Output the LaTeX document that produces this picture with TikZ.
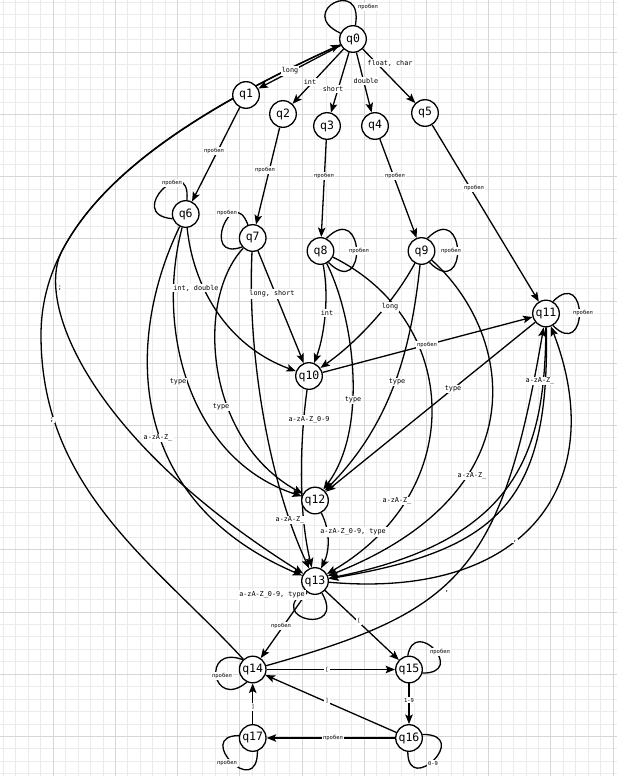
\documentclass[tikz,border=0pt]{standalone}
\usepackage{fontspec}
\newfontfamily\monofont{DejaVu Sans Mono}
\usetikzlibrary{arrows.meta}
\pgfdeclarelayer{gridlayer}
\pgfdeclarelayer{edgelayer}
\pgfdeclarelayer{labellayer}
\pgfsetlayers{gridlayer,edgelayer,main,labellayer}
\begin{document}
\begin{tikzpicture}[x=1pt,y=-1pt,
  state/.style={circle,draw,line width=1.3pt,fill=white,minimum size=26.6pt,inner sep=0pt,
    font=\monofont\fontsize{11.5}{11.5}\selectfont},
  arr/.style={line width=1.3pt,-{Stealth[length=9.5pt,width=7.5pt,inset=2pt]}},
  ln/.style={line width=1.3pt},
  lbl/.style={fill=white,inner sep=1.2pt,font=\monofont\fontsize{6.8}{7}\selectfont},
  sp/.style={fill=white,inner sep=1.2pt,font=\monofont\fontsize{5.5}{6}\selectfont},
  gminor/.style={line width=0.8pt,black!8},
  gmajor/.style={line width=0.9pt,black!16},
]
\useasboundingbox (0,0) rectangle (617,776);

% background grid
\begin{pgfonlayer}{gridlayer}
  \fill[white] (0,0) rectangle (617,776);
  \foreach \i in {0,...,51} {
    \draw[gminor] ({-9+12.44*\i},0) -- ({-9+12.44*\i},776);
  }
  \foreach \i in {0,...,64} {
    \draw[gminor] (0,{-10+12.44*\i}) -- (617,{-10+12.44*\i});
  }
  \foreach \i in {0,...,10} {
    \draw[gmajor] ({-9+62.2*\i},0) -- ({-9+62.2*\i},776);
  }
  \foreach \i in {0,...,13} {
    \draw[gmajor] (0,{-10+62.2*\i}) -- (617,{-10+62.2*\i});
  }
\end{pgfonlayer}

% states
\node[state] (q0)  at (353,39)  {q0};
\node[state] (q1)  at (246,95)  {q1};
\node[state] (q2)  at (283,114) {q2};
\node[state] (q3)  at (327,126) {q3};
\node[state] (q4)  at (375,126) {q4};
\node[state] (q5)  at (425,113) {q5};
\node[state] (q6)  at (185.7,214) {q6};
\node[state] (q7)  at (252.7,238) {q7};
\node[state] (q8)  at (320.5,251) {q8};
\node[state] (q9)  at (421.5,251) {q9};
\node[state] (q10) at (309,376) {q10};
\node[state] (q11) at (546,313.5) {q11};
\node[state] (q12) at (315,500.5) {q12};
\node[state] (q13) at (315,581) {q13};
\node[state] (q14) at (252.7,669.5) {q14};
\node[state] (q15) at (409,669.5) {q15};
\node[state] (q16) at (409,738) {q16};
\node[state] (q17) at (252.7,738) {q17};

\begin{pgfonlayer}{edgelayer}
  % self loops
  \draw[ln] (q0.155) .. controls +(155:50pt) and +(80:50pt) .. (q0.80);
  \draw[ln] (q6.200) .. controls +(175:50pt) and +(85:50pt) .. (q6.85);
  \draw[ln] (q7.220) .. controls +(200:45pt) and +(110:45pt) .. (q7.110);
  \draw[ln] (q8.65) .. controls +(45:55pt) and +(315:55pt) .. (q8.305);
  \draw[ln] (q9.65) .. controls +(45:55pt) and +(315:55pt) .. (q9.305);
  \draw[ln] (q11.60) .. controls +(45:50pt) and +(315:50pt) .. (q11.300);
  \draw[ln] (q13.225) .. controls +(215:50pt) and +(300:50pt) .. (q13.300);
  \draw[ln] (q14.135) .. controls +(160:45pt) and +(220:45pt) .. (q14.245);
  \draw[ln] (q15.95) .. controls +(80:40pt) and +(0:45pt) .. (q15.345);
  \draw[ln] (q16.15) .. controls +(0:50pt) and +(270:45pt) .. (q16.265);
  \draw[ln] (q17.170) .. controls +(180:45pt) and +(270:50pt) .. (q17.290);

  % type keywords
  \draw[arr] (q0) -- (q1);
  \draw[arr] (q0) -- (q2);
  \draw[arr] (q0) -- (q3);
  \draw[arr] (q0) -- (q4);
  \draw[arr] (q0) -- (q5);
  \draw[arr] (q1) -- (q6);
  \draw[arr] (q2) -- (q7);
  \draw[arr] (q3) -- (q8);
  \draw[arr] (q4) -- (q9);
  \draw[arr] (q5) -- (q11);

  % second keyword
  \draw[arr] (q6) .. controls (193,285) and (225,345) .. (q10);
  \draw[arr] (q7) -- (q10);
  \draw[arr] (q8) .. controls (330,300) and (323,340) .. (q10);
  \draw[arr] (q9) .. controls (395,300) and (360,340) .. (q10);
  \draw[arr] (q10) -- (q11);

  % type used as a name prefix
  \draw[arr] (q6) .. controls (155,330) and (190,460) .. (q12);
  \draw[arr] (q7) .. controls (195,300) and (205,440) .. (q12);
  \draw[arr] (q8) .. controls (355,320) and (368,430) .. (q12);
  \draw[arr] (q9) .. controls (412,340) and (395,420) .. (q12);
  \draw[arr] (q11) -- (q12);

  % identifiers
  \draw[arr] (q6) .. controls (125,340) and (125,500) .. (q13);
  \draw[arr] (q7) .. controls (247,350) and (268,480) .. (q13);
  \draw[arr] (q8) .. controls (460,320) and (470,490) .. (q13);
  \draw[arr] (q9) .. controls (510,330) and (545,490) .. (q13);
  \draw[arr] (q10) .. controls (300,440) and (298,510) .. (q13);
  \draw[arr] (q11) .. controls (545,450) and (520,540) .. (q13);
  \draw[arr] (q11) .. controls (550,500) and (500,550) .. (q13);
  \draw[arr] (q12) .. controls (330,530) and (330,550) .. (q13);

  % separators
  \draw[arr] (q13) .. controls (530,600) and (610,480) .. (q11);
  \draw[arr] (q14) .. controls (458.4,611.4) and (501.5,573) .. (q11);
  \draw[arr] (q0) .. controls (204.2,106.5) and (103.85,171.4) .. (62.2,250.6)
                  .. controls (34.2,303.7) and (91.5,440.8) .. (q13);
  \draw[arr] (q14) .. controls (156,564) and (41,490) .. (41,335)
                   .. controls (41,215) and (158.6,127) .. (q0);

  % array part
  \draw[arr] (q13) -- (q14);
  \draw[arr] (q13) -- (q15);
  \draw[arr] (q14) -- (q15);
  \draw[arr] (q15) -- (q16);
  \draw[arr] (q16) -- (q14);
  \draw[arr] (q16) -- (q17);
  \draw[arr] (q17) -- (q14);
\end{pgfonlayer}

\begin{pgfonlayer}{labellayer}
  \node[sp]  (t00) at (368,7)   {пробел};
  \node[lbl] (t01) at (290,71)  {long};
  \node[lbl] (t02) at (310,82)  {int};
  \node[lbl] (t03) at (333,89)  {short};
  \node[lbl] (t04) at (366,81)  {double};
  \node[lbl] (t05) at (390,63)  {float, char};
  \node[sp]  (t06) at (214,151) {пробел};
  \node[sp]  (t07) at (265,170) {пробел};
  \node[sp]  (t08) at (324,176) {пробел};
  \node[sp]  (t09) at (395,176) {пробел};
  \node[sp]  (t10) at (474,188) {пробел};
  \node[sp]  (t11) at (172,183) {пробел};
  \node[sp]  (t12) at (227,213) {пробел};
  \node[sp]  (t13) at (359,251) {пробел};
  \node[sp]  (t14) at (451,251) {пробел};
  \node[sp]  (t15) at (583,313) {пробел};
  \node[lbl] (t16) at (196,288) {int, double};
  \node[lbl] (t17) at (272,294) {long, short};
  \node[lbl] (t18) at (327,313) {int};
  \node[lbl] (t19) at (390,307) {long};
  \node[lbl] (t20) at (60,288)  {;};
  \node[lbl] (t21) at (52,420)  {;};
  \node[lbl] (t22) at (178,382) {type};
  \node[lbl] (t23) at (221,407) {type};
  \node[lbl] (t24) at (353,400) {type};
  \node[lbl] (t25) at (397,382) {type};
  \node[lbl] (t26) at (453,389) {type};
  \node[sp]  (t27) at (427,345) {пробел};
  \node[lbl] (t28) at (309,420) {a-zA-Z\_0-9};
  \node[lbl] (t29) at (158,438) {a-zA-Z\_};
  \node[lbl] (t30) at (540,381) {a-zA-Z\_};
  \node[lbl] (t31) at (472,476) {a-zA-Z\_};
  \node[lbl] (t32) at (397,501) {a-zA-Z\_};
  \node[lbl] (t33) at (290,520) {a-zA-Z\_};
  \node[lbl] (t34) at (353,532) {a-zA-Z\_0-9, type};
  \node[lbl] (t35) at (515,541) {,};
  \node[lbl] (t36) at (447,591) {,};
  \node[lbl] (t37) at (272,595) {a-zA-Z\_0-9, type};
  \node[sp]  (t38) at (281,626) {пробел};
  \node[sp]  (t39) at (359,621) {[};
  \node[sp]  (t40) at (327,670) {[};
  \node[sp]  (t41) at (222,676) {пробел};
  \node[sp]  (t42) at (440,652) {пробел};
  \node[sp]  (t43) at (409,700) {1-9};
  \node[sp]  (t44) at (327,701) {]};
  \node[sp]  (t45) at (253,707) {]};
  \node[sp]  (t46) at (333,738) {пробел};
  \node[sp]  (t47) at (433,763) {0-9};
  \node[sp]  (t48) at (227,763) {пробел};
\end{pgfonlayer}
\end{tikzpicture}
\end{document}
